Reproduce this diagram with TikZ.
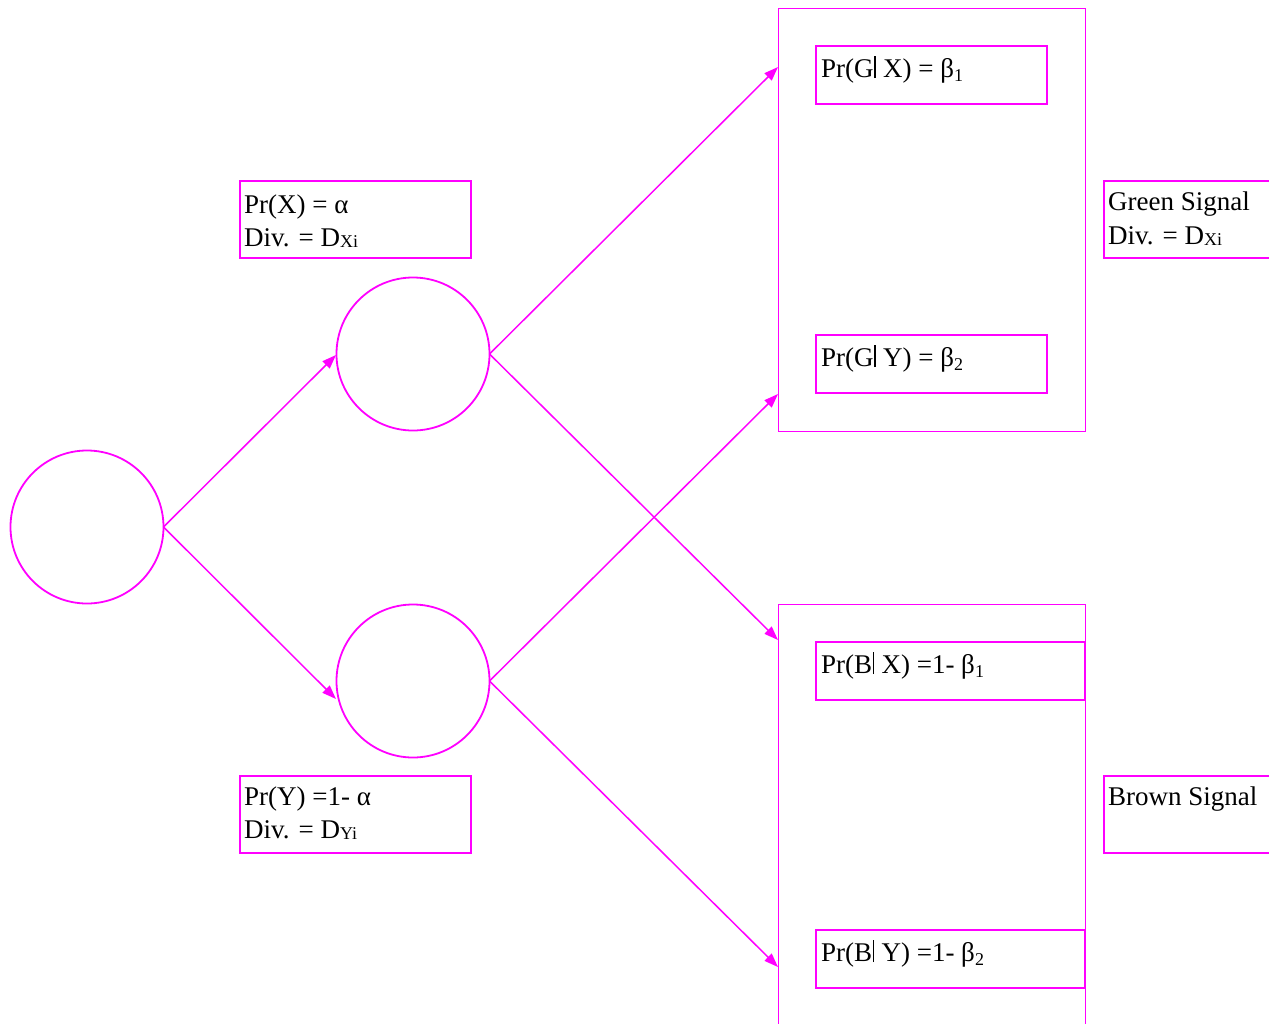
\documentclass[tikz,border=0pt]{standalone}
\usepackage{fontspec}
\setmainfont{Liberation Serif}
\usetikzlibrary{arrows.meta}
\definecolor{mag}{RGB}{255,0,255}
\newcommand\subD[1]{\raisebox{-1.5pt}{\fontsize{18}{18}\selectfont #1}}
\newcommand\subB[1]{\raisebox{-4pt}{\fontsize{18}{18}\selectfont #1}}
\newcommand\givenbar{\kern0.6pt\rule[-1pt]{1.4pt}{22pt}\kern0.6pt}
\begin{document}
\begin{tikzpicture}[x=1pt,y=-1pt,
  lbl/.style={anchor=base west, inner sep=0pt, font=\fontsize{27}{32}\selectfont, text=black},
  smallbox/.style={draw=mag, line width=2.2pt, anchor=north west, inner sep=0pt, outer sep=0pt, minimum height=58pt},
  openbox/.style={anchor=north west, inner sep=0pt, outer sep=0pt, minimum height=77pt, minimum width=165pt},
  openline/.style={draw=mag, line width=2.2pt},
  bigbox/.style={draw=mag, line width=0.9pt, anchor=north west, inner sep=0pt, outer sep=0pt, minimum width=307pt},
  state/.style={circle, draw=mag, line width=1.8pt, minimum size=153pt, inner sep=0pt, outer sep=0pt},
  conn/.style={draw=mag, line width=1.5pt, -{Triangle[length=14pt,width=10pt]}}]
\clip (0,0) rectangle (1279,1023);
\fill[white] (0,0) rectangle (1279,1023);
% circles
\node[state] (A) at (87,527) {};
\node[state] (B) at (413,354) {};
\node[state] (C) at (413,681) {};
% big rectangles
\node[bigbox, minimum height=423pt] (GR) at (778,8) {};
\node[bigbox, minimum height=440pt] (BR) at (778,604) {};
% probability boxes
\node[smallbox, minimum width=231pt, minimum height=77pt] (px) at (240,181) {};
\node[smallbox, minimum width=231pt, minimum height=77pt] (py) at (240,776) {};
\node[lbl] (pxa) at (244,213) {Pr(X) = α};
\node[lbl] (pxb) at (244,246) {Div. = D\subD{Xi}};
\node[lbl] (pya) at (244,805) {Pr(Y) =1- α};
\node[lbl] (pyb) at (244,838) {Div. = D\subD{Yi}};
% inner boxes
\node[smallbox, minimum width=231pt] (g1) at (816,46) {};
\node[smallbox, minimum width=231pt] (g2) at (816,335) {};
\node[smallbox, minimum width=269pt] (b1) at (816,642) {};
\node[smallbox, minimum width=269pt] (b2) at (816,930) {};
\node[lbl] (g1t) at (821,77) {Pr(G\givenbar\ X) = β\subB{1}};
\node[lbl] (g2t) at (821,366) {Pr(G\givenbar\ Y) = β\subB{2}};
\node[lbl] (b1t) at (821,673) {Pr(B\givenbar\ X) =1- β\subB{1}};
\node[lbl] (b2t) at (821,961) {Pr(B\givenbar\ Y) =1- β\subB{2}};
% signal boxes (open on the right)
\node[openbox] (gs) at (1104,181) {};
\node[openbox] (bs) at (1104,776) {};
\draw[openline] (gs.north east) -- (gs.north west) -- (gs.south west) -- (gs.south east);
\draw[openline] (bs.north east) -- (bs.north west) -- (bs.south west) -- (bs.south east);
\node[lbl] (gsa) at (1108,210) {Green Signal};
\node[lbl] (gsb) at (1108,244) {Div. = D\subD{Xi}};
\node[lbl] (bsa) at (1108,805) {Brown Signal};
% arrow end points
\coordinate (eB) at (336,355);
\coordinate (eC) at (336,699);
\coordinate (eG1) at (778,67);
\coordinate (eB1) at (778,640);
\coordinate (eG2) at (778,394);
\coordinate (eB2) at (778,967);
% connectors
\draw[conn] (A.east) -- (eB);
\draw[conn] (A.east) -- (eC);
\draw[conn] (B.east) -- (eG1);
\draw[conn] (B.east) -- (eB1);
\draw[conn] (C.east) -- (eG2);
\draw[conn] (C.east) -- (eB2);
\end{tikzpicture}
\end{document}
